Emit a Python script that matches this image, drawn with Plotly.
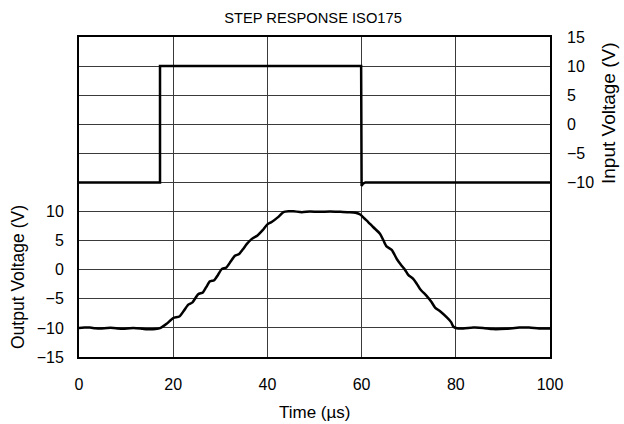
import plotly.graph_objects as go

# ---- data ----
out_time = [0, 1.2, 2.3, 3.4, 4.5, 6.0, 7.3, 8.3, 9.4, 10.8, 12.2, 13.5, 15.0, 16.2, 17.2,
            18.6, 20.0, 21.3, 22.3, 23.2, 24.1, 25.3, 26.3, 27.0, 27.8, 28.7, 29.5, 30.3,
            31.3, 32.2, 33.1, 34.0, 34.8, 35.6, 36.7, 37.9, 39.0, 40.0, 40.9, 42.2, 43.4,
            44.5, 45.5, 47.3, 49.0, 51.0, 53.3, 55.5, 57.5, 58.7, 59.7, 60.6, 61.4, 62.5,
            63.9, 64.6, 65.3, 66.4, 67.5, 68.5, 69.2, 69.9, 71.0, 71.7, 72.4, 73.8, 74.8,
            75.6, 76.6, 78.1, 79.0, 79.5, 80.2, 81.6, 83.7, 85.8, 87.9, 90.7, 93.5, 95.6,
            97.7, 100]
out_volt = [-10.0, -9.95, -9.95, -10.05, -10.1, -10.0, -10.0, -10.1, -10.15, -10.05, -10.05,
            -10.15, -10.25, -10.2, -10.05,
            -9.3, -8.3, -8.05, -7.0, -6.0, -5.6, -4.2, -3.9, -3.0, -2.0, -1.8, -0.9, 0.1,
            0.4, 1.4, 2.4, 2.7, 3.5, 4.4, 5.3, 5.9, 6.8, 7.8, 8.2, 9.0, 9.9,
            10.05, 10.05, 9.9, 10.0, 9.95, 10.0, 9.95, 9.9, 9.8, 9.5, 8.8, 8.2, 7.3,
            6.2, 5.1, 4.0, 3.4, 1.8, 0.7, 0.0, -0.9, -1.6, -2.4, -3.3, -4.5, -5.5,
            -6.5, -7.1, -8.2, -9.0, -9.8, -10.05, -10.1, -9.95, -10.0, -10.2, -10.15, -9.95, -9.95,
            -10.1, -10.1]

in_time = [0, 17.2, 17.2, 59.9, 60.0, 60.3, 60.8, 100]
in_volt = [-10, -10, 10, 10, -10.6, -10.2, -10, -10]

x_ticks = [0, 20, 40, 60, 80, 100]
out_ticks = [-15, -10, -5, 0, 5, 10]
in_ticks = [-10, -5, 0, 5, 10, 15]

font_family = "Liberation Sans, Arial, sans-serif"

fig = go.Figure()
fig.add_trace(go.Scatter(x=out_time, y=out_volt, mode="lines",
                         line=dict(color="black", width=2.5, shape="spline", smoothing=0.6),
                         yaxis="y", showlegend=False))
fig.add_trace(go.Scatter(x=in_time, y=in_volt, mode="lines",
                         line=dict(color="black", width=2.5),
                         yaxis="y2", showlegend=False))

grid_col = "#3a3a3a"
fig.update_layout(
    width=624, height=424,
    margin=dict(l=79, r=74, t=37, b=67, autoexpand=False),
    paper_bgcolor="white", plot_bgcolor="white",
    font=dict(family=font_family, color="black", size=16),
    title=dict(text="STEP RESPONSE ISO175", x=(313 / 624), xanchor="center",
               y=1 - 18 / 424, yanchor="middle", font=dict(size=14.7)),
    xaxis=dict(range=[0, 100], tickvals=x_ticks, showgrid=True, gridcolor=grid_col,
               gridwidth=1, showline=True, linecolor="black", linewidth=2, mirror=True,
               ticks="", ticklabelstandoff=12, zeroline=False, automargin=False),
    yaxis=dict(range=[-15, 40], tickvals=out_ticks, showgrid=True, gridcolor=grid_col,
               gridwidth=1, showline=True, linecolor="black", linewidth=2, mirror=True,
               ticks="", ticklabelstandoff=10, zeroline=False, automargin=False),
    yaxis2=dict(range=[-40, 15], tickvals=in_ticks, overlaying="y", side="right",
                showgrid=True, gridcolor=grid_col, gridwidth=1, showline=False,
                ticks="", ticklabelstandoff=16, zeroline=False, automargin=False),
    annotations=[
        dict(text="Time (µs)", xref="paper", yref="paper",
             x=(315 - 79) / 471, y=(357 - 412) / 320, xanchor="center", yanchor="middle",
             showarrow=False, font=dict(size=17)),
        dict(text="Output Voltage (V)", xref="paper", yref="paper",
             x=(18 - 79) / 471, y=(357 - 277) / 320, xanchor="center", yanchor="middle",
             textangle=-90, showarrow=False, font=dict(size=17.5)),
        dict(text="Input Voltage (V)", xref="paper", yref="paper",
             x=(608 - 79) / 471, y=(357 - 113) / 320, xanchor="center", yanchor="middle",
             textangle=-90, showarrow=False, font=dict(size=19)),
    ],
)

fig.write_html("out.html", config={"displayModeBar": False},
               post_script="document.body.style.margin='0';document.body.style.overflow='hidden';")
